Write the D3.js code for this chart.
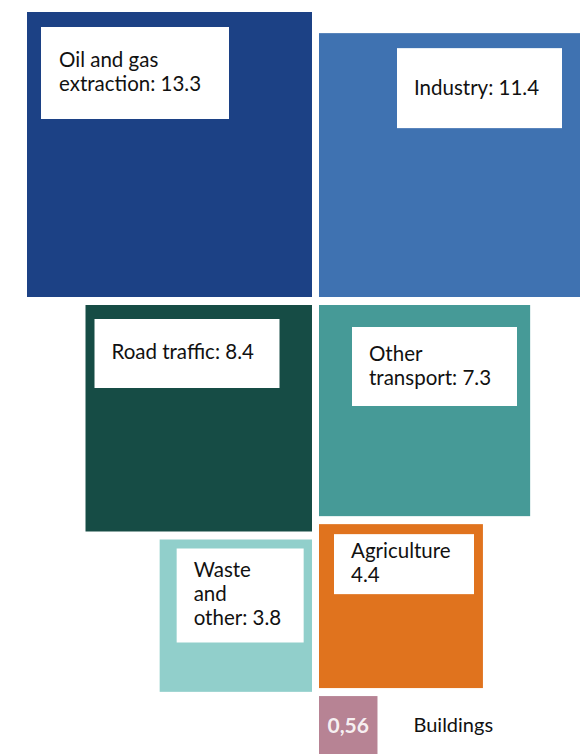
<!DOCTYPE html>
<html>
<head>
<meta charset="utf-8">
<script src="https://cdn.jsdelivr.net/npm/d3@7"></script>
<style>
  html, body { margin: 0; padding: 0; background: #fff; }
  svg { display: block; }
  text { font-family: Lato, "Noto Sans", sans-serif; }
</style>
</head>
<body>
<svg id="chart" width="580" height="754"></svg>
<script>
// Emissions by sector (million tonnes CO2-eq), drawn as area-proportional squares
const sectors = ["Oil and gas extraction", "Industry", "Road traffic", "Other transport",
                 "Agriculture", "Waste and other", "Buildings"];
const emissions = [13.3, 11.4, 8.4, 7.3, 4.4, 3.8, 0.56];
// label lines; "{v}" is replaced by the sector's value
const labelLines = [
  ["Oil and gas", "extraction: {v}"],
  ["Industry: {v}"],
  ["Road traffic: {v}"],
  ["Other", "transport: {v}"],
  ["Agriculture", "{v}"],
  ["Waste", "and", "other: {v}"],
  ["{v}"]
];
const colors = ["#1c4185", "#3f72b1", "#164c45", "#469a97", "#e0731e", "#91cfcb", "#b78394"];

// ---- layout ----
const svg = d3.select("#chart");
const side = d3.scaleSqrt().domain([0, 13.3]).range([0, 285]);
const leftEdge = 312, rightEdge = 319, gap = 8;
const row1Bottom = 297, row2Top = 305;

const items = sectors.map((name, i) => ({
  name, value: emissions[i], color: colors[i], lines: labelLines[i], s: side(emissions[i])
}));
const [oil, ind, road, other, agri, waste, bld] = items;

// first row bottom-aligned, second row top-aligned, then stacked per column
oil.x = leftEdge - oil.s;   oil.y = row1Bottom - oil.s;
ind.x = rightEdge;          ind.y = row1Bottom - ind.s;
road.x = leftEdge - road.s; road.y = row2Top;
other.x = rightEdge;        other.y = row2Top;
waste.x = leftEdge - waste.s; waste.y = road.y + road.s + gap;
agri.x = rightEdge;         agri.y = other.y + other.s + gap;
bld.x = rightEdge;          bld.y = agri.y + agri.s + gap;

// white label boxes, offsets from each square's top-left corner
const boxes = {
  "Oil and gas extraction": {dx: 14, dy: 15, w: 188, h: 92, tx: 18, ty: 40},
  "Industry":               {dx: 78, dy: 15, w: 165, h: 80, tx: 17, ty: 47},
  "Road traffic":           {dx: 9,  dy: 14, w: 185, h: 69, tx: 17, ty: 40},
  "Other transport":        {dx: 33, dy: 22, w: 165, h: 79, tx: 17, ty: 34},
  "Agriculture":            {dx: 15, dy: 10, w: 140, h: 60, tx: 17, ty: 24},
  "Waste and other":        {dx: 17, dy: 9,  w: 127, h: 94, tx: 17, ty: 29}
};
const lineHeight = 24;
const fmt = v => String(v);
const fmtComma = v => d3.format(".2f")(v).replace(".", ",");

const g = svg.append("g");

g.selectAll("rect.sq")
  .data(items)
  .join("rect")
  .attr("class", "sq")
  .attr("x", d => d.x)
  .attr("y", d => d.y)
  .attr("width", d => d.s)
  .attr("height", d => d.s)
  .attr("fill", d => d.color);

const labelled = items.filter(d => boxes[d.name]);
const lg = g.selectAll("g.lab")
  .data(labelled)
  .join("g")
  .attr("class", "lab")
  .attr("transform", d => `translate(${d.x + boxes[d.name].dx},${d.y + boxes[d.name].dy})`);

lg.append("rect")
  .attr("width", d => boxes[d.name].w)
  .attr("height", d => boxes[d.name].h)
  .attr("fill", "#fff");

lg.append("text")
  .attr("font-size", 20.5)
  .attr("fill", "#111")
  .selectAll("tspan")
  .data(d => d.lines.map((l, j) => ({
    t: l.replace("{v}", fmt(d.value)), j, b: boxes[d.name]
  })))
  .join("tspan")
  .attr("x", d => d.b.tx)
  .attr("y", d => d.b.ty + d.j * lineHeight)
  .text(d => d.t);

// smallest sector: value inside the square, name beside it
g.append("text")
  .attr("x", bld.x + bld.s / 2)
  .attr("y", bld.y + 37)
  .attr("text-anchor", "middle")
  .attr("font-size", 21)
  .attr("font-weight", 700)
  .attr("fill", "#fff")
  .attr("fill-opacity", 0.9)
  .text(bld.lines[0].replace("{v}", fmtComma(bld.value)));

g.append("text")
  .attr("x", bld.x + bld.s + 36)
  .attr("y", bld.y + 36)
  .attr("font-size", 20)
  .attr("fill", "#111")
  .text(bld.name);
</script>
</body>
</html>
